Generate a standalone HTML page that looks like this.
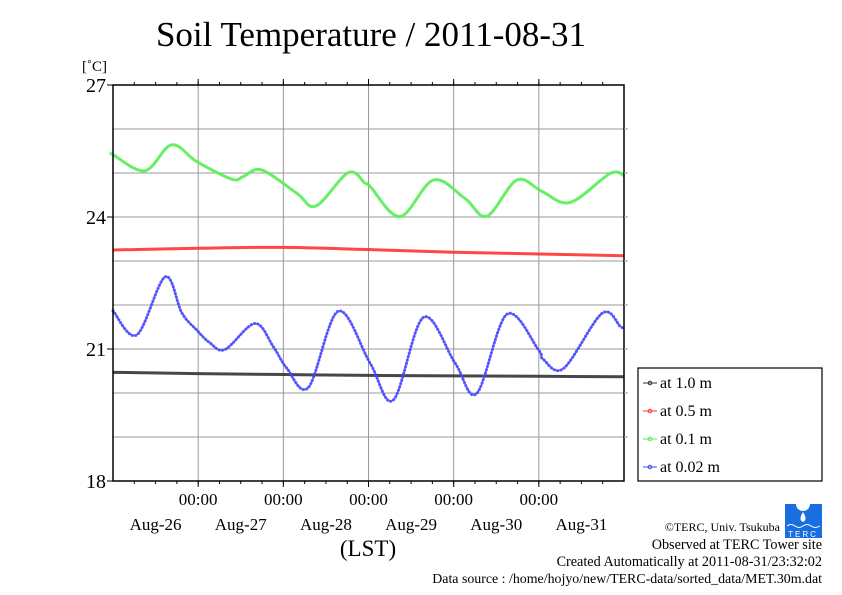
<!DOCTYPE html>
<html><head><meta charset="utf-8"><style>
body{margin:0;background:#fff;width:842px;height:595px;overflow:hidden}
svg{display:block;font-family:"Liberation Serif",serif}
</style></head><body>
<svg id="chart" width="842" height="595">
<text x="371" y="46" font-size="35" text-anchor="middle">Soil Temperature / 2011-08-31</text>
<text x="82" y="71" font-size="15">[˚C]</text>
<text x="368" y="556" font-size="23" text-anchor="middle">(LST)</text>
<g id="grid"></g>
<g id="series"></g>
<rect x="113" y="85" width="511" height="396" fill="none" stroke="#000" stroke-width="1.5"/>
<g id="axes"></g>
<g>
<rect x="638" y="368" width="184" height="113" fill="#fff" stroke="#000" stroke-width="1.2"/>
<g id="legend"></g>
</g>
<text x="780" y="531" font-size="12" text-anchor="end">©TERC, Univ. Tsukuba</text>
<g>
<rect x="785" y="504" width="37" height="34" fill="#1a6fe0"/>
<circle cx="803" cy="504" r="7" fill="#fff"/>
<path d="M803 512 q-5 8 0 10 q5 -2 0 -10z" fill="#fff"/>
<path d="M787 526 q4 -3 8 0 q4 3 8 0 q4 -3 8 0 q4 3 9 0" stroke="#fff" fill="none"/>
<text x="803" y="537" font-size="8" fill="#fff" text-anchor="middle" font-family="Liberation Sans,sans-serif" letter-spacing="2">TERC</text>
</g>
<text x="822" y="549" font-size="14.2" text-anchor="end">Observed at TERC Tower site</text>
<text x="822" y="566" font-size="14.2" text-anchor="end">Created Automatically at 2011-08-31/23:32:02</text>
<text x="822" y="583" font-size="13.9" text-anchor="end">Data source : /home/hojyo/new/TERC-data/sorted_data/MET.30m.dat</text>
</svg>
<script>
const yTicks = [18, 21, 24, 27];
const dayLabels = ["Aug-26","Aug-27","Aug-28","Aug-29","Aug-30","Aug-31"];
const midnightHours = [0, 24, 48, 72, 96];
const seriesNames = ["at 1.0 m","at 0.5 m","at 0.1 m","at 0.02 m"];
const seriesColors = ["#333333","#ff3333","#55ee55","#4444ff"];
const h100 = [-24, 0, 24, 48, 72, 96, 120];
const t100 = [20.47, 20.44, 20.42, 20.40, 20.39, 20.38, 20.37];
const h050 = [-24, 0, 24, 48, 72, 96, 120];
const t050 = [23.25, 23.29, 23.31, 23.26, 23.20, 23.16, 23.12];
const h010 = [-24,-23.9,-15,-7.5,-0.4,9.5,12.7,17.9,27.8,33.2,42.3,47,48.5,56.9,66.3,75.2,81.4,89.8,96.9,104.8,116.1,120];
const t010 = [25.42,25.41,25.05,25.64,25.26,24.86,24.92,25.07,24.54,24.25,25.01,24.77,24.69,24.01,24.84,24.42,24.02,24.84,24.58,24.33,24.99,24.94];
const h002 = [-24,-17.3,-9.3,-4.6,-0.4,3.3,7.6,16.0,21.2,25.0,31.1,39.5,48.5,55.0,63.5,72.4,78.5,87.0,95.9,97.2,103.0,113.8,119.0,120];
const t002 = [21.87,21.32,22.64,21.82,21.43,21.14,20.99,21.58,21.05,20.56,20.13,21.86,20.67,19.84,21.72,20.68,19.99,21.79,20.98,20.77,20.56,21.81,21.51,21.48];

const X0=113,X1=624,Y0=481,Y1=85,HMIN=-24,HMAX=120,TMIN=18,TMAX=27;
const xs=h=>X0+(h-HMIN)/(HMAX-HMIN)*(X1-X0);
const ys=t=>Y0-(t-TMIN)/(TMAX-TMIN)*(Y0-Y1);
const NS="http://www.w3.org/2000/svg";
function mk(tag,attrs,parent){const e=document.createElementNS(NS,tag);for(const k in attrs)e.setAttribute(k,attrs[k]);parent.appendChild(e);return e;}
const grid=document.getElementById('grid'),axes=document.getElementById('axes'),ser=document.getElementById('series'),leg=document.getElementById('legend');
for(let t=TMIN+1;t<TMAX;t++){const l=mk('line',{x1:X0,x2:X1,y1:ys(t),y2:ys(t),stroke:'#999','stroke-width':1},grid);


mk('line',{x1:X1,x2:X1+4,y1:ys(t),y2:ys(t),stroke:'#999'},axes);}
midnightHours.forEach(h=>{const l=mk('line',{x1:xs(h),x2:xs(h),y1:Y1,y2:Y0,stroke:'#999','stroke-width':1},grid);


const tx=mk('text',{x:xs(h),y:505,'font-size':17,'text-anchor':'middle'},axes);tx.textContent='00:00';


mk('line',{x1:xs(h),x2:xs(h),y1:Y0,y2:Y0+6,stroke:'#000'},axes);mk('line',{x1:xs(h),x2:xs(h),y1:Y1,y2:Y1-6,stroke:'#000'},axes);});
for(let h=HMIN+6;h<HMAX;h+=6){mk('line',{x1:xs(h),x2:xs(h),y1:Y0,y2:Y0+3,stroke:'#000'},axes);mk('line',{x1:xs(h),x2:xs(h),y1:Y1,y2:Y1-3,stroke:'#000'},axes);}
dayLabels.forEach((d,i)=>{const tx=mk('text',{x:xs(HMIN+12+24*i),y:530,'font-size':17,'text-anchor':'middle'},axes);tx.textContent=d;

});
yTicks.forEach(t=>{const tx=mk('text',{x:106,y:ys(t)+7,'font-size':20,'text-anchor':'end'},axes);tx.textContent=t;


mk('line',{x1:X0-6,x2:X0,y1:ys(t),y2:ys(t),stroke:'#000'},axes);});
function smooth(H,T){const p=H.map((h,i)=>[xs(h),ys(T[i])]);let d='M'+p[0][0]+' '+p[0][1];
for(let i=0;i<p.length-1;i++){const a=p[Math.max(0,i-1)],b=p[i],c=p[i+1],e=p[Math.min(p.length-1,i+2)];
d+=' C'+(b[0]+(c[0]-a[0])/6)+' '+(b[1]+(c[1]-a[1])/6)+' '+(c[0]-(e[0]-b[0])/6)+' '+(c[1]-(e[1]-b[1])/6)+' '+c[0]+' '+c[1];}return d;}
const allH=[h100,h050,h010,h002],allT=[t100,t050,t010,t002],keys=['series-1.0m','series-0.5m','series-0.1m','series-0.02m'];
allH.forEach((H,i)=>{const d=smooth(H,allT[i]);
if(i==3){mk('path',{d:d,fill:'none',stroke:seriesColors[i],'stroke-width':1,opacity:0.7},ser);}
const p=mk('path',{d:d,fill:'none',stroke:seriesColors[i],'stroke-width':3,'stroke-dasharray':i==3?'0.5 3':'none','stroke-linecap':i==3?'round':'butt',opacity:i==3?0.85:0.9},ser);

});
seriesNames.forEach((n,i)=>{const y=383+i*28;const g=mk('g',{},leg);


mk('line',{x1:643,x2:657,y1:y,y2:y,stroke:seriesColors[i]},g);mk('circle',{cx:650,cy:y,r:1.8,fill:'none',stroke:seriesColors[i]},g);
const t=mk('text',{x:660,y:y+5,'font-size':16},g);t.textContent=n;});
</script>
</body></html>
